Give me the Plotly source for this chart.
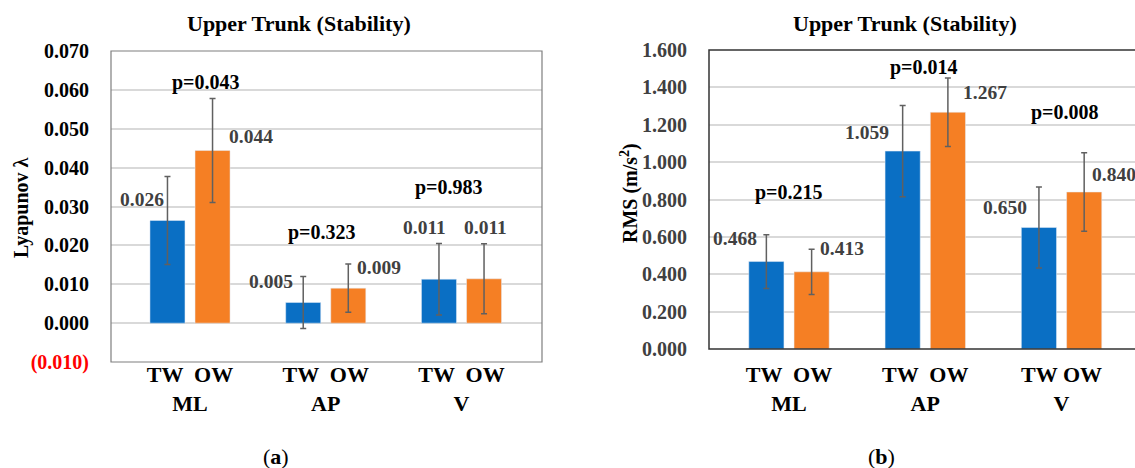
import plotly.graph_objects as go

# ---------------- data ----------------
categories = ["ML", "AP", "V"]
series_names = ["TW", "OW"]

# (a) Lyapunov exponent
lyap_tw = [0.0264, 0.0053, 0.0113]
lyap_ow = [0.0444, 0.0090, 0.0114]
lyap_tw_err = [0.0113, 0.0067, 0.0092]
lyap_ow_err = [0.0134, 0.0062, 0.0090]
lyap_p = ["p=0.043", "p=0.323", "p=0.983"]
lyap_ticks = [-0.010, 0.000, 0.010, 0.020, 0.030, 0.040, 0.050, 0.060, 0.070]

# (b) RMS
rms_tw = [0.468, 1.059, 0.650]
rms_ow = [0.413, 1.267, 0.840]
rms_tw_err = [0.144, 0.244, 0.217]
rms_ow_err = [0.121, 0.183, 0.210]
rms_p = ["p=0.215", "p=0.014", "p=0.008"]
rms_ticks = [0.0, 0.2, 0.4, 0.6, 0.8, 1.0, 1.2, 1.4, 1.6]

left_xticktext = ["TW  OW<br>ML", "TW  OW<br>AP", "TW  OW<br>V"]
right_xticktext = ["TW  OW<br>ML", "TW  OW<br>AP", "TW OW<br>V"]

# ---------------- label placement (style) ----------------
# positions (x in category units, y in data units)
lyap_tw_lab_pos = [(-0.354, 0.0319), (0.597, 0.0106), (1.724, 0.0247)]
lyap_ow_lab_pos = [(0.449, 0.0479), (1.392, 0.0142), (2.180, 0.0247)]
lyap_p_pos = [(0.118, 0.0620), (0.972, 0.0232), (1.908, 0.0350)]
rms_tw_lab_pos = [(-0.396, 0.589), (0.572, 1.156), (1.585, 0.755)]
rms_ow_lab_pos = [(0.389, 0.540), (1.439, 1.370), (2.385, 0.936)]
rms_p_pos = [(0.0, 0.835), (0.991, 1.504), (2.026, 1.268)]

W, H = 1135, 468
BLUE = "#0A6FC4"
ORANGE = "#F57F24"
FONT = "Liberation Serif, Times New Roman, serif"
ERR = dict(type="data", color="#606060", thickness=1.5, width=3)

fig = go.Figure()

def add_bars(xa, ya, tw, ow, twe, owe):
    fig.add_trace(go.Bar(x=categories, y=tw, name=series_names[0], marker_color=BLUE,
                         error_y=dict(array=twe, **ERR), xaxis=xa, yaxis=ya, showlegend=False))
    fig.add_trace(go.Bar(x=categories, y=ow, name=series_names[1], marker_color=ORANGE,
                         error_y=dict(array=owe, **ERR), xaxis=xa, yaxis=ya, showlegend=False))

add_bars("x", "y", lyap_tw, lyap_ow, lyap_tw_err, lyap_ow_err)
add_bars("x2", "y2", rms_tw, rms_ow, rms_tw_err, rms_ow_err)

def ann(x, y, text, xref, yref, color="#404040", size=19.5, **kw):
    fig.add_annotation(x=x, y=y, xref=xref, yref=yref, text="<b>%s</b>" % text,
                       xanchor="center", yanchor="middle",
                       showarrow=False, font=dict(family=FONT, size=size, color=color), **kw)

for vals, pos in ((lyap_tw, lyap_tw_lab_pos), (lyap_ow, lyap_ow_lab_pos)):
    for v, (px, py) in zip(vals, pos):
        ann(px, py, "%.3f" % v, "x", "y")
for t, (px, py) in zip(lyap_p, lyap_p_pos):
    ann(px, py, t, "x", "y", color="#000000", size=20)
for vals, pos in ((rms_tw, rms_tw_lab_pos), (rms_ow, rms_ow_lab_pos)):
    for v, (px, py) in zip(vals, pos):
        ann(px, py, "%.3f" % v, "x2", "y2")
for t, (px, py) in zip(rms_p, rms_p_pos):
    ann(px, py, t, "x2", "y2", color="#000000", size=20)

# titles
ann(298.5 / W, 1 - 23 / H, "Upper Trunk (Stability)", "paper", "paper", color="#000000", size=22)
ann(904.5 / W, 1 - 23 / H, "Upper Trunk (Stability)", "paper", "paper", color="#000000", size=22)
# y titles
ann(21 / W, 1 - 208 / H, "Lyapunov λ", "paper", "paper", color="#000000", size=20, textangle=-90)
ann(629 / W, 1 - 193 / H, "RMS (m/s<sup>2</sup>)", "paper", "paper", color="#000000", size=20, textangle=-90)
# panel labels
for lab, cx in (("a", 276), ("b", 881)):
    fig.add_annotation(x=cx / W, y=1 - 456 / H, xref="paper", yref="paper", showarrow=False,
                       xanchor="center", yanchor="middle",
                       text="(<b>%s</b>)" % lab, font=dict(family=FONT, size=22, color="#000000"))

lyap_ticktext = [("<span style='color:#FF0000'>(%.3f)</span>" % abs(t)) if t < 0 else "%.3f" % t
                 for t in lyap_ticks]
rms_ticktext = ["%.3f" % t for t in rms_ticks]

xcommon = dict(type="category", showgrid=False, zeroline=False, ticks="", automargin=False,
               tickfont=dict(family=FONT, size=22, color="#000000", weight="bold"))

fig.update_layout(
    width=W, height=H, autosize=False, margin=dict(l=0, r=0, t=0, b=0, pad=0, autoexpand=False),
    paper_bgcolor="white", plot_bgcolor="white",
    barmode="group", bargap=0.336, bargroupgap=0.223, showlegend=False,
    xaxis=dict(domain=[111 / W, 542 / W], range=[-0.582, 2.593], anchor="y",
               tickvals=categories, ticktext=left_xticktext, ticklabelstandoff=-3, **xcommon),
    yaxis=dict(domain=[1 - 362 / H, 1 - 51 / H], range=[-0.010, 0.070], anchor="x",
               tickvals=lyap_ticks, ticktext=lyap_ticktext, showgrid=True, gridcolor="#D9D9D9",
               gridwidth=1.5, zeroline=False, ticks="", ticklabelstandoff=21, automargin=False,
               tickfont=dict(family=FONT, size=20, color="#000000", weight="bold")),
    xaxis2=dict(domain=[709 / W, 1.0], range=[-0.587, 2.539], anchor="y2",
                tickvals=categories, ticktext=right_xticktext, ticklabelstandoff=10, **xcommon),
    yaxis2=dict(domain=[1 - 349 / H, 1 - 50 / H], range=[0, 1.6], anchor="x2",
                tickvals=rms_ticks, ticktext=rms_ticktext, showgrid=True, gridcolor="#D9D9D9",
                gridwidth=1.5, zeroline=False, ticks="", ticklabelstandoff=21, automargin=False,
                tickfont=dict(family=FONT, size=20, color="#404040", weight="bold")),
)

# frames
fig.add_shape(type="rect", xref="x domain", yref="y domain", x0=0, x1=1, y0=0, y1=1,
              line=dict(color="#7F7F7F", width=1.2), layer="above")
fig.add_shape(type="rect", xref="x2 domain", yref="y2 domain", x0=0, x1=1.02, y0=0, y1=1,
              line=dict(color="#333333", width=1.5), layer="above")

fig.write_html("out.html", config={"displayModeBar": False},
               post_script="document.body.style.margin='0';")
